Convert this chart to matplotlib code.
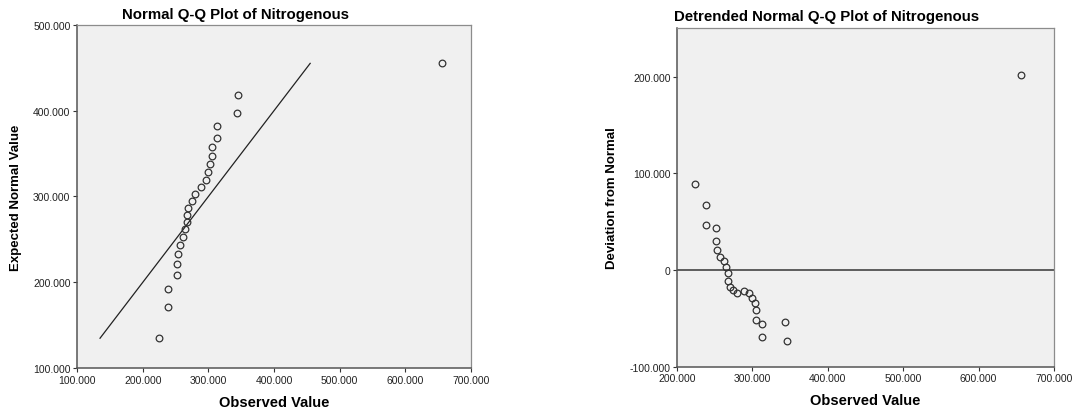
import numpy as np
import matplotlib
matplotlib.use('Agg')
import matplotlib.pyplot as plt
from matplotlib.ticker import FuncFormatter

plt.rcParams['font.family'] = ['Liberation Sans', 'DejaVu Sans']

# 观测值与正态期望值 (n = 25)
observed = [224.3, 238.5, 238.5, 251.7, 251.7, 253.2, 257.0, 261.7, 264.9,
            267.0, 268.0, 269.6, 274.3, 279.5, 289.4, 296.0, 298.8, 303.0,
            305.3, 305.3, 312.6, 312.6, 343.8, 345.4, 656.4]
expected = [135.0, 171.5, 192.4, 208.3, 221.6, 232.8, 243.3, 252.6, 261.9,
            270.5, 279.0, 286.8, 295.0, 303.2, 311.3, 319.4, 328.0, 337.3,
            346.6, 357.1, 368.3, 381.6, 397.7, 418.5, 455.0]

qq_xticks = [100, 200, 300, 400, 500, 600, 700]
qq_yticks = [100, 200, 300, 400, 500]
dt_xticks = [200, 300, 400, 500, 600, 700]
dt_yticks = [-100, 0, 100, 200]

var_name = 'Nitrogenous'

observed = np.array(observed)
expected = np.array(expected)
deviation = observed - expected

BG = '#f0f0f0'
DARK = '#555555'
LIGHT = '#8c8c8c'


def style_axes(ax):
    ax.set_facecolor(BG)
    for side in ['left', 'bottom']:
        ax.spines[side].set_color(DARK)
        ax.spines[side].set_linewidth(1.1)
    for side in ['top', 'right']:
        ax.spines[side].set_color(LIGHT)
        ax.spines[side].set_linewidth(0.9)
    ax.tick_params(direction='out', length=3.2, width=0.8, color='#333333',
                   labelsize=7.5, labelcolor='#222222', pad=1.5,
                   top=False, right=False)


def fmt(v, pos):
    return '0' if abs(v) < 1e-9 else '%.3f' % v


fig = plt.figure(figsize=(10.76, 4.10), dpi=100)

# 正态 Q-Q 图
ax1 = fig.add_axes([0.0716, 0.0993, 0.3662, 0.838])
style_axes(ax1)
ax1.plot([expected.min(), expected.max()], [expected.min(), expected.max()],
         color='#222222', lw=0.9)
ax1.plot(observed, expected, 'o', mfc='none', mec='#333333', ms=4.8, mew=0.9)
ax1.set_xlim(100, 700)
ax1.set_ylim(100, 500)
ax1.set_xticks(qq_xticks)
ax1.set_yticks(qq_yticks)
ax1.xaxis.set_major_formatter(FuncFormatter(fmt))
ax1.yaxis.set_major_formatter(FuncFormatter(fmt))
ax1.set_xlabel('Observed Value', fontsize=10.5, fontweight='bold', labelpad=7)
ax1.set_ylabel('Expected Normal Value', fontsize=9.5, fontweight='bold', labelpad=8)
fig.text(235 / 1076, 0.963, 'Normal Q-Q Plot of ' + var_name,
         fontsize=10.8, fontweight='bold', ha='center', va='center')

# 去势正态 Q-Q 图
ax2 = fig.add_axes([0.6292, 0.1032, 0.3504, 0.8254])
style_axes(ax2)
ax2.axhline(0, color='#444444', lw=1.2)
ax2.plot(observed, deviation, 'o', mfc='none', mec='#333333', ms=4.8, mew=0.9)
ax2.set_xlim(200, 700)
ax2.set_ylim(-100, 250)
ax2.set_xticks(dt_xticks)
ax2.set_yticks(dt_yticks)
ax2.xaxis.set_major_formatter(FuncFormatter(fmt))
ax2.yaxis.set_major_formatter(FuncFormatter(fmt))
ax2.set_xlabel('Observed Value', fontsize=10.5, fontweight='bold', labelpad=7)
ax2.set_ylabel('Deviation from Normal', fontsize=9.5, fontweight='bold', labelpad=8)
fig.text(827 / 1076, 0.958, 'Detrended Normal Q-Q Plot of ' + var_name,
         fontsize=10.8, fontweight='bold', ha='center', va='center')

fig.savefig('out.png', dpi=100)
